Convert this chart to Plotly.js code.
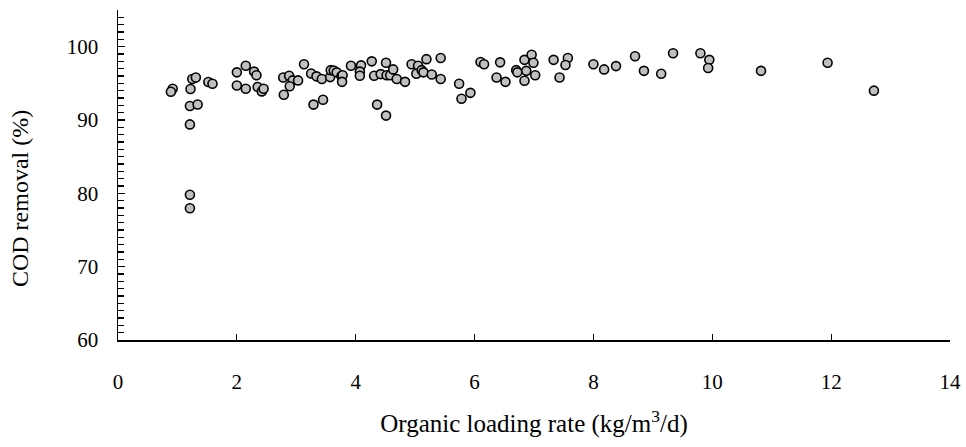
<!DOCTYPE html>
<html>
<head>
<meta charset="utf-8">
<script src="https://cdn.plot.ly/plotly-3.0.1.min.js"></script>
<style>html,body{margin:0;padding:0;background:#fff;}#chart{width:966px;height:447px;}</style>
</head>
<body>
<div id="chart"></div>
<script>
const olr = [
  0.92, 0.89, 1.22, 1.25, 1.31, 1.52, 1.59, 1.21, 1.34, 1.21, 1.21, 1.21,
  2.0, 2.15, 2.29, 2.33, 2.0, 2.15, 2.35, 2.42, 2.45,
  2.78, 2.88, 2.94, 2.89, 2.79, 3.03,
  3.13, 3.25, 3.34, 3.43, 3.57, 3.58, 3.63, 3.68, 3.76, 3.78, 3.77, 3.29, 3.45,
  3.92, 4.09, 4.07, 4.07, 4.27, 4.31, 4.42, 4.51, 4.52, 4.58, 4.63, 4.69, 4.83, 4.36, 4.51,
  4.94, 5.05, 5.02, 5.11, 5.14, 5.19, 5.28, 5.43, 5.43,
  5.74, 5.78, 5.93, 6.1, 6.16, 6.43, 6.37, 6.52,
  6.7, 6.72, 6.84, 6.96, 6.99, 6.87, 6.84, 7.02,
  7.33, 7.43, 7.57, 7.53, 8.0, 8.18, 8.38, 8.7, 8.85, 9.14, 9.34,
  9.8, 9.95, 9.93, 10.82, 11.94, 12.72
];
const codRemoval = [
  94.27, 93.86, 94.22, 95.6, 95.8, 95.18, 94.95, 91.9, 92.12, 89.4, 79.8, 77.97,
  96.5, 97.4, 96.6, 96.1, 94.7, 94.27, 94.5, 93.9, 94.27,
  95.8, 96.04, 95.4, 94.6, 93.45, 95.4,
  97.6, 96.35, 95.95, 95.6, 95.85, 96.8, 96.75, 96.5, 96.0, 96.1, 95.2, 92.1, 92.76,
  97.4, 97.45, 96.6, 96.04, 98.0, 96.04, 96.26, 97.8, 96.1, 96.1, 96.9, 95.6, 95.2, 92.1, 90.6,
  97.6, 97.4, 96.3, 96.8, 96.5, 98.3, 96.2, 98.45, 95.6,
  94.95, 92.9, 93.7, 97.9, 97.6, 97.86, 95.8, 95.2,
  96.8, 96.5, 98.2, 98.9, 97.8, 96.7, 95.36, 96.1,
  98.2, 95.8, 98.45, 97.5, 97.6, 96.9, 97.35, 98.7, 96.7, 96.3, 99.1,
  99.1, 98.2, 97.1, 96.7, 97.8, 94.0
];
const xTitle = 'Organic loading rate (kg/m<sup>3</sup>/d)';
const yTitle = 'COD removal (%)';

const font = 'Liberation Serif, Times New Roman, serif';
Plotly.newPlot('chart', [{
  x: olr, y: codRemoval, type: 'scatter', mode: 'markers',
  marker: {size: 9, color: '#c0c0c0', line: {color: '#000', width: 1.6}},
  cliponaxis: false
}], {
  width: 966, height: 447,
  margin: {l: 118, r: 16, t: 10, b: 107},
  paper_bgcolor: '#fff', plot_bgcolor: '#fff',
  showlegend: false,
  font: {family: font, color: '#000', size: 21},
  xaxis: {
    range: [0, 14], dtick: 2, tick0: 0, showgrid: false, zeroline: false,
    showline: true, linecolor: '#000', linewidth: 1.5,
    ticks: 'inside', ticklen: 6, tickwidth: 1.2, tickcolor: '#000',
    ticklabelstandoff: 22,
    tickfont: {family: font, size: 21},
    title: {text: xTitle, font: {family: font, size: 25}, standoff: 22}
  },
  yaxis: {
    range: [60, 105], dtick: 10, tick0: 60, showgrid: false, zeroline: false,
    showline: true, linecolor: '#000', linewidth: 1.5,
    ticks: 'inside', ticklen: 7, tickwidth: 1.5, tickcolor: '#000',
    minor: {dtick: 1, ticks: 'inside', ticklen: 6, tickwidth: 1.2, tickcolor: '#000'},
    ticklabelstandoff: 14,
    tickfont: {family: font, size: 21}
  },
  annotations: [{
    text: yTitle, textangle: -90, showarrow: false,
    xref: 'paper', yref: 'paper', x: -0.1178, y: 0.43,
    xanchor: 'center', yanchor: 'middle',
    font: {family: font, size: 24, color: '#000'}
  }]
}, {displayModeBar: false, staticPlot: true});
</script>
</body>
</html>
